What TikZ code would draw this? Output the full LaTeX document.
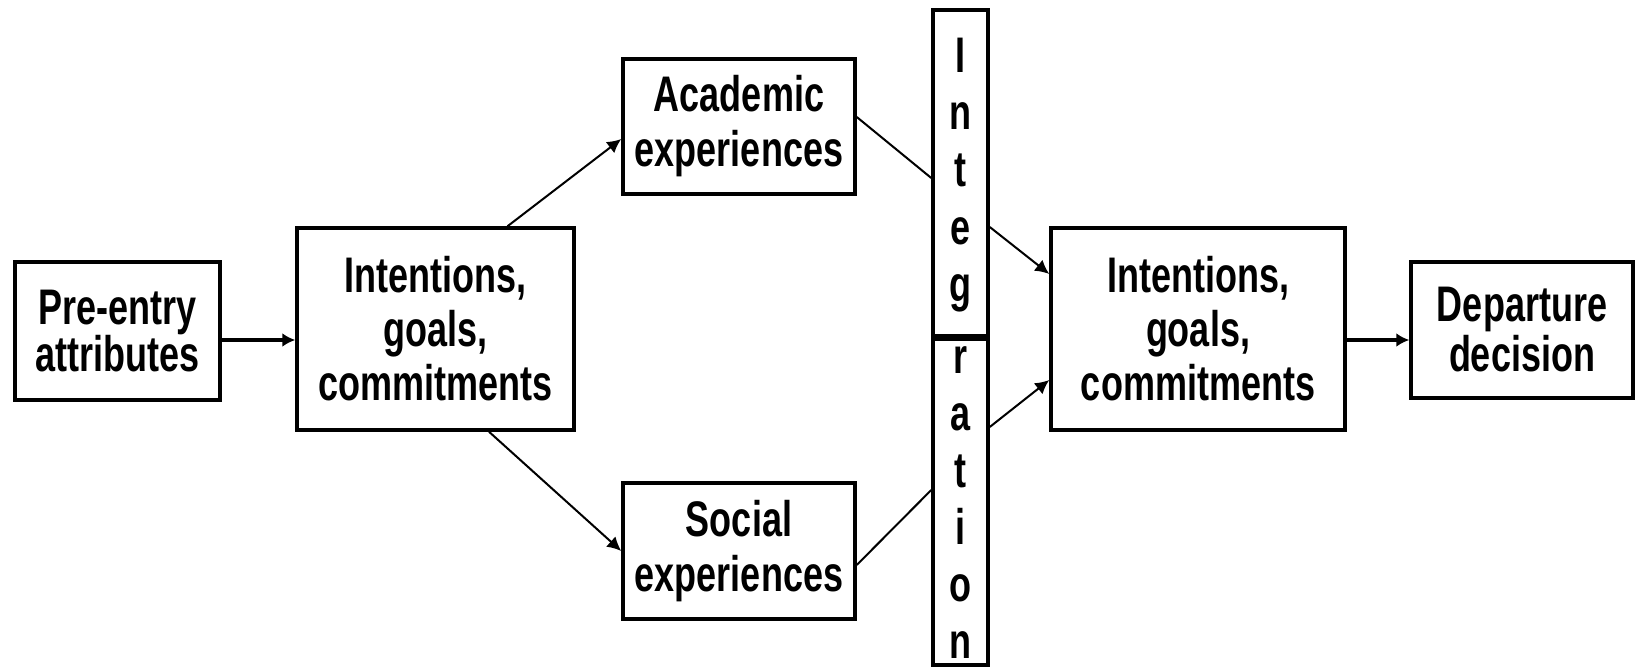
\documentclass[tikz,border=0pt]{standalone}
\usepackage{fontspec}
\newfontfamily\dfont{Liberation Sans}[FakeStretch=0.72]
\usetikzlibrary{arrows.meta,calc}
\begin{document}
\begin{tikzpicture}[x=1pt,y=-1pt,
  box/.style={draw, line width=3.5pt, inner sep=0pt, align=center},
  txt/.style={font=\dfont\bfseries\fontsize{50}{#1}\selectfont},
  ltr/.style={font=\dfont\bfseries\fontsize{50}{54}\selectfont, anchor=base, inner sep=0pt},
  harrow/.style={line width=3.5pt, -{Latex[length=13pt,width=14pt]}},
  darrow/.style={line width=2pt, -{Latex[length=14pt,width=14pt]}},
  dline/.style={line width=2pt}]
\useasboundingbox (0,0) rectangle (1640,668);

\node[box, txt=44, minimum width=205pt, minimum height=138pt] (pre) at (117.5,331) {Pre-entry\\attributes};
\node[box, txt=54, minimum width=277pt, minimum height=202pt] (lint) at (435.5,329) {Intentions,\\goals,\\commitments};
\node[box, txt=55, minimum width=232pt, minimum height=135pt] (acad) at (739,126.5) {Academic\\experiences};
\node[box, txt=55, minimum width=232pt, minimum height=136pt] (soc) at (739,551) {Social\\experiences};
\node[box, minimum width=55pt, minimum height=655pt] (bar) at (960.5,337.5) {};
\node[box, txt=54, minimum width=294pt, minimum height=202pt] (rint) at (1198,329) {Intentions,\\goals,\\commitments};
\node[box, txt=50, minimum width=222pt, minimum height=136pt] (dep) at (1522,330) {Departure\\decision};

\draw[line width=7pt] (bar.west |- 0,337) coordinate (dl) -- (dl -| bar.east) coordinate (dr);

\foreach \ch/\yy [count=\k] in {I/73,n/130,t/187,e/244,g/301,r/373,a/430,t/487,i/544,o/601,n/658}
  \node[ltr] (let\k) at (960.5,\yy) {\ch};

\draw[harrow] ($(pre.east)+(0,9)$) coordinate (a1) -- (a1 -| lint.west);
\draw[harrow] ($(rint.east)+(0,11)$) coordinate (a2) -- (a2 -| dep.west);

\draw[darrow] ($(lint.north)+(72,0)$) -- ($(acad.west)+(0,12.5)$);
\draw[darrow] ($(lint.south)+(53.5,0)$) -- (soc.west);

\draw[dline] ($(acad.east)+(0,-9.5)$) -- (bar.west |- 0,178);
\draw[dline] ($(soc.east)+(0,14)$) -- (bar.west |- 0,490);

\draw[darrow] (bar.east |- 0,227) -- ($(rint.west)+(0,-55)$);
\draw[darrow] (bar.east |- 0,427) -- ($(rint.west)+(0,51)$);
\end{tikzpicture}
\end{document}
